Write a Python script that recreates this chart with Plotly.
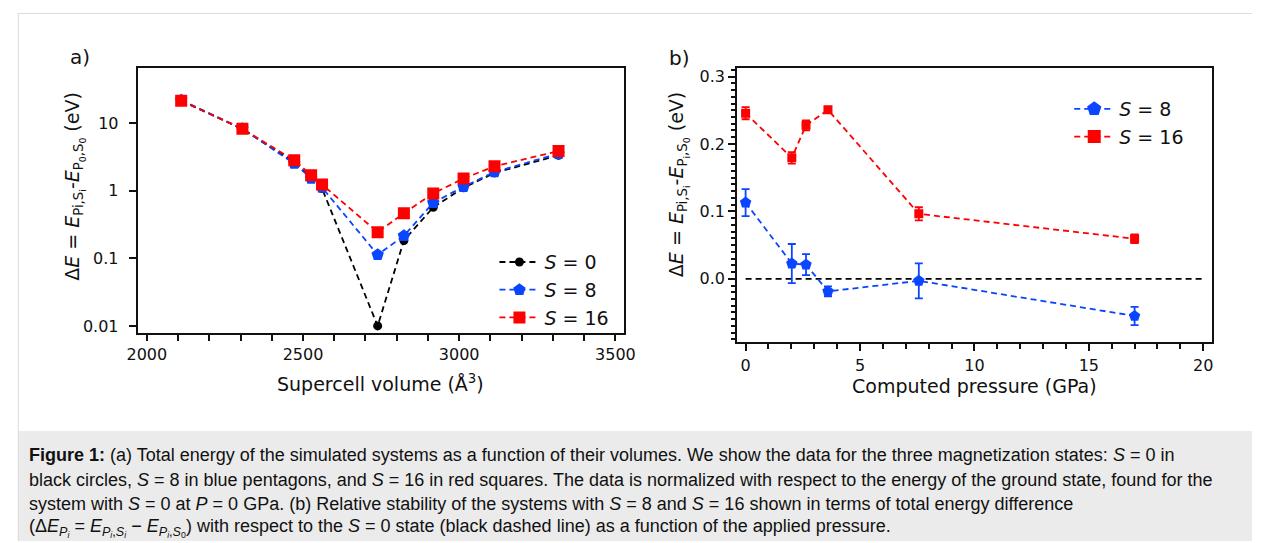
import plotly.graph_objects as go

W, H = 1263, 543

# ---------------- data: panel a ----------------
volume = [2110, 2306, 2472, 2526, 2561, 2739, 2823, 2917, 3014, 3113, 3318]
dE_S0 = [21.6, 8.2, 2.65, 1.58, 1.08, 0.010, 0.184, 0.57, 1.11, 1.84, 3.35]
dE_S8 = [22.0, 8.3, 2.53, 1.52, 1.12, 0.113, 0.216, 0.667, 1.15, 1.90, 3.55]
dE_S16 = [21.6, 8.27, 2.83, 1.70, 1.24, 0.244, 0.466, 0.916, 1.52, 2.31, 3.87]

# ---------------- data: panel b ----------------
pressure = [0.0, 2.02, 2.64, 3.6, 7.57, 17.0]
rel_S8 = [0.113, 0.0226, 0.021, -0.0187, -0.003, -0.0552]
err_S8 = [0.020, 0.029, 0.0157, 0.0074, 0.026, 0.0135]
rel_S16 = [0.2457, 0.1794, 0.2276, 0.2507, 0.0963, 0.0594]
err_S16 = [0.009, 0.0086, 0.0074, 0.0037, 0.0098, 0.0066]
ref_S0_x = [0, 20]
ref_S0_y = [0, 0]

log_ticks = [0.01, 0.1, 1, 10]
log_ticktext = ["0.01", "0.1", "1", "10"]

BLUE = "#0a45ff"
RED = "#ff0000"
BLACK = "#000000"
FONT = "DejaVu Sans"
DASH = "6px,4px"


def px_x(v):
    return v / W


def px_y(v):
    return 1 - v / H


fig = go.Figure()

# panel a traces
fig.add_trace(go.Scatter(x=volume, y=dE_S0, mode="lines+markers", name="<i>S</i> = 0",
                         line=dict(color=BLACK, width=1.8, dash=DASH),
                         marker=dict(symbol="circle", size=9, color=BLACK),
                         xaxis="x", yaxis="y", legend="legend"))
fig.add_trace(go.Scatter(x=volume, y=dE_S8, mode="lines+markers", name="<i>S</i> = 8",
                         line=dict(color=BLUE, width=1.8, dash=DASH),
                         marker=dict(symbol="pentagon", size=13, color=BLUE),
                         xaxis="x", yaxis="y", legend="legend"))
fig.add_trace(go.Scatter(x=volume, y=dE_S16, mode="lines+markers", name="<i>S</i> = 16",
                         line=dict(color=RED, width=1.8, dash=DASH),
                         marker=dict(symbol="square", size=12, color=RED),
                         xaxis="x", yaxis="y", legend="legend"))

# panel b traces
fig.add_trace(go.Scatter(x=ref_S0_x, y=ref_S0_y, mode="lines", showlegend=False,
                         line=dict(color=BLACK, width=1.8, dash=DASH),
                         xaxis="x2", yaxis="y2"))
fig.add_trace(go.Scatter(x=pressure, y=rel_S8, mode="lines+markers", showlegend=False,
                         line=dict(color=BLUE, width=1.8, dash=DASH),
                         marker=dict(symbol="pentagon", size=12, color=BLUE),
                         error_y=dict(type="data", array=err_S8, color=BLUE, thickness=1.8, width=4),
                         xaxis="x2", yaxis="y2"))
fig.add_trace(go.Scatter(x=pressure, y=rel_S16, mode="lines+markers", showlegend=False,
                         line=dict(color=RED, width=1.8, dash=DASH),
                         marker=dict(symbol="square", size=9, color=RED),
                         error_y=dict(type="data", array=err_S16, color=RED, thickness=1.8, width=4),
                         xaxis="x2", yaxis="y2"))
# legend entries for panel b (larger symbols, as in the original key)
fig.add_trace(go.Scatter(x=[None], y=[None], mode="lines+markers", name="<i>S</i> = 8",
                         line=dict(color=BLUE, width=1.8, dash=DASH),
                         marker=dict(symbol="pentagon", size=15, color=BLUE),
                         xaxis="x2", yaxis="y2", legend="legend2"))
fig.add_trace(go.Scatter(x=[None], y=[None], mode="lines+markers", name="<i>S</i> = 16",
                         line=dict(color=RED, width=1.8, dash=DASH),
                         marker=dict(symbol="square", size=13, color=RED),
                         xaxis="x2", yaxis="y2", legend="legend2"))

axis_common = dict(showline=True, linecolor="#111", linewidth=2, mirror=True,
                   ticks="outside", tickcolor="#111", tickwidth=1.6, showgrid=False,
                   zeroline=False, tickfont=dict(family=FONT, size=16, color="#111"))

fig.update_layout(
    width=W, height=H, autosize=False,
    margin=dict(l=0, r=0, t=0, b=0),
    paper_bgcolor="white", plot_bgcolor="white",
    font=dict(family=FONT, color="#111"),
    xaxis=dict(domain=[px_x(129), px_x(624)], range=[1971, 3528],
               tickvals=[2000, 2500, 3000, 3500], ticklen=6,
               minor=dict(dtick=100, ticklen=6, ticks="outside", tickcolor="#111", tickwidth=1.6),
               anchor="y", **axis_common),
    yaxis=dict(domain=[px_y(334), px_y(67.3)], type="log", range=[-2.107, 1.819],
               tickvals=log_ticks, ticktext=log_ticktext, ticklen=7, ticklabelstandoff=7,
               anchor="x", **axis_common),
    xaxis2=dict(domain=[px_x(739), px_x(1222.7)], range=[-0.37, 20.4],
                tickvals=[0, 5, 10, 15, 20], ticklen=7, ticklabelstandoff=1,
                minor=dict(dtick=1, ticklen=5, ticks="outside", tickcolor="#111", tickwidth=1.6),
                anchor="y2", **axis_common),
    yaxis2=dict(domain=[px_y(342.7), px_y(67.3)], range=[-0.0935, 0.3128],
                tickvals=[0.0, 0.1, 0.2, 0.3], tickformat=".1f", ticklen=7,
                minor=dict(dtick=0.01, ticklen=4, ticks="outside", tickcolor="#111", tickwidth=1.6),
                anchor="x2", **axis_common),
    legend=dict(x=px_x(492), y=px_y(243.5), xanchor="left", yanchor="top",
                bgcolor="rgba(0,0,0,0)", itemwidth=40,
                font=dict(family=FONT, size=19, color="#111")),
    legend2=dict(x=px_x(1077), y=px_y(89.5), xanchor="left", yanchor="top",
                 bgcolor="rgba(0,0,0,0)", itemwidth=40,
                 font=dict(family=FONT, size=19, color="#111")),
)

annotations = [
    dict(text="a)", x=px_x(70), y=px_y(56), font=dict(family=FONT, size=20)),
    dict(text="b)", x=px_x(680), y=px_y(57), font=dict(family=FONT, size=20)),
    dict(text="Supercell volume (Å<sup>3</sup>)", x=px_x(376.5), y=px_y(384),
         font=dict(family=FONT, size=19)),
    dict(text="Computed pressure (GPa)", x=px_x(981), y=px_y(387),
         font=dict(family=FONT, size=19)),
    dict(text="Δ<i>E</i> = <i>E</i><sub>Pi,S<sub>i</sub></sub>-<i>E</i><sub>P<sub>0</sub>,S<sub>0</sub></sub> (eV)",
         x=px_x(65), y=px_y(186), textangle=-90, font=dict(family=FONT, size=19)),
    dict(text="Δ<i>E</i> = <i>E</i><sub>Pi,S<sub>i</sub></sub>-<i>E</i><sub>P<sub>i</sub>,S<sub>0</sub></sub> (eV)",
         x=px_x(680), y=px_y(185), textangle=-90, font=dict(family=FONT, size=19)),
]
for a in annotations:
    a.update(xref="paper", yref="paper", showarrow=False, xanchor="center", yanchor="middle")

CAP_FONT = "Liberation Sans"
caption_lines = [
    "<b>Figure 1:</b> (a) Total energy of the simulated systems as a function of their volumes. "
    "We show the data for the three magnetization states: <i>S</i> = 0 in",
    "black circles, <i>S</i> = 8 in blue pentagons, and <i>S</i> = 16 in red squares. "
    "The data is normalized with respect to the energy of the ground state, found for the",
    "system with <i>S</i> = 0 at <i>P</i> = 0 GPa. (b) Relative stability of the systems with "
    "<i>S</i> = 8 and <i>S</i> = 16 shown in terms of total energy difference",
    "(Δ<i>E</i><sub><i>P<sub>i</sub></i></sub> = <i>E</i><sub><i>P<sub>i</sub></i>,<i>S<sub>i</sub></i></sub>"
    " − <i>E</i><sub><i>P<sub>i</sub></i>,<i>S</i><sub>0</sub></sub>) with respect to the "
    "<i>S</i> = 0 state (black dashed line) as a function of the applied pressure.",
]
cap_y = [457, 481.5, 505.5, 530]
for line, yy in zip(caption_lines, cap_y):
    annotations.append(dict(text=line, x=px_x(16), y=px_y(yy), xref="paper", yref="paper",
                            xanchor="left", yanchor="middle", showarrow=False, align="left",
                            font=dict(family=CAP_FONT, size=18, color="#111")))

fig.update_layout(annotations=annotations)

shapes = [
    dict(type="rect", xref="paper", yref="paper", x0=px_x(7), x1=1, y0=0, y1=px_y(432.5),
         fillcolor="#ebebeb", line=dict(width=0), layer="below"),
    dict(type="line", xref="paper", yref="paper", x0=px_x(7.5), x1=px_x(7.5), y0=0, y1=px_y(12),
         line=dict(color="#dcdcdc", width=1)),
    dict(type="line", xref="paper", yref="paper", x0=px_x(7.5), x1=1, y0=px_y(12.5), y1=px_y(12.5),
         line=dict(color="#dcdcdc", width=1)),
]
fig.update_layout(shapes=shapes)

fig.write_html("out.html")
